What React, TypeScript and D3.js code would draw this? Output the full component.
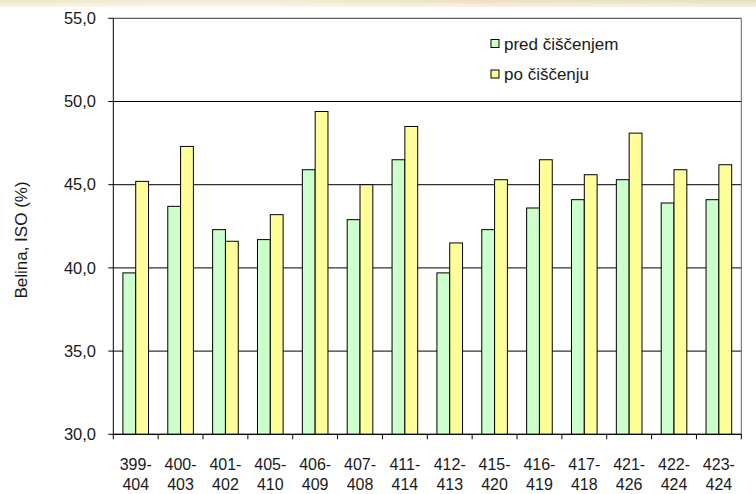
import React from "react";
import * as d3 from "d3";

const categories = [
  ["399-", "404"], ["400-", "403"], ["401-", "402"], ["405-", "410"], ["406-", "409"],
  ["407-", "408"], ["411-", "414"], ["412-", "413"], ["415-", "420"], ["416-", "419"],
  ["417-", "418"], ["421-", "426"], ["422-", "424"], ["423-", "424"],
];
const predCiscenjem = [39.7, 43.7, 42.3, 41.7, 45.9, 42.9, 46.5, 39.7, 42.3, 43.6, 44.1, 45.3, 43.9, 44.1];
const poCiscenju = [45.2, 47.3, 41.6, 43.2, 49.4, 45.0, 48.5, 41.5, 45.3, 46.5, 45.6, 48.1, 45.9, 46.2];
const yTicks = [30, 35, 40, 45, 50, 55];
const seriesNames = ["pred čiščenjem", "po čiščenju"];
const seriesColors = ["#CCFFCC", "#FFFF99"];

export default function App() {
  const W = 756, H = 494;
  const left = 113.3, right = 741.3, top = 18.3, bottom = 434.3;
  const x = d3.scaleBand<number>().domain(d3.range(categories.length)).range([left, right]).paddingInner(0).paddingOuter(0);
  const y = d3.scaleLinear().domain([30, 55]).range([bottom, top]);
  const step = x.bandwidth();
  const barW = step / 3.5;
  const fmt = (v: number) => v.toFixed(1).replace(".", ",");
  const font = "Arial, 'Liberation Sans', sans-serif";
  const series = [predCiscenjem, poCiscenju];
  const txt = "#1a1a1a";

  return (
    <svg width={W} height={H} style={{ position: "absolute", left: 0, top: 0, display: "block" }}>
      <defs>
        <linearGradient id="band" x1="0" x2="1" y1="0" y2="0">
          <stop offset="0" stopColor="#efe4c8" />
          <stop offset="0.3" stopColor="#f4ecd6" />
          <stop offset="0.6" stopColor="#ede0c0" />
          <stop offset="1" stopColor="#e8dcc0" />
        </linearGradient>
        <linearGradient id="bandv" x1="0" x2="0" y1="0" y2="1">
          <stop offset="0" stopColor="#fff" stopOpacity="0" />
          <stop offset="1" stopColor="#fff" stopOpacity="0.6" />
        </linearGradient>
      </defs>
      <rect x={0} y={0} width={W} height={H} fill="#fff" />
      <rect x={0} y={0} width={W} height={7} fill="url(#band)" />
      <rect x={0} y={0} width={W} height={7} fill="url(#bandv)" />
      {yTicks.map((t) => (
        <line key={"g" + t} x1={left} x2={right} y1={y(t)} y2={y(t)} stroke={t === 55 ? "#333" : "#000"} strokeWidth={1} />
      ))}
      <line x1={right} x2={right} y1={top} y2={bottom} stroke="#666" strokeWidth={1} />
      {series.map((s, si) =>
        s.map((v, i) => {
          const x0 = (x(i) as number) + (step - 2 * barW) / 2 + si * barW;
          return (
            <rect key={si + "-" + i} x={x0} y={y(v)} width={barW} height={bottom - y(v)}
              fill={seriesColors[si]} stroke="#000" strokeWidth={1} />
          );
        })
      )}
      <line x1={left} x2={left} y1={top} y2={bottom} stroke="#000" strokeWidth={1} />
      <line x1={left} x2={right} y1={bottom} y2={bottom} stroke="#000" strokeWidth={1} />
      {yTicks.map((t) => (
        <g key={"yt" + t}>
          <line x1={left - 5} x2={left} y1={y(t)} y2={y(t)} stroke="#000" />
          <text x={96} y={y(t)} dy="0.35em" textAnchor="end" fontFamily={font} fontSize={16.5} fill={txt}>{fmt(t)}</text>
        </g>
      ))}
      {d3.range(categories.length + 1).map((i) => {
        const xx = left + i * step;
        return <line key={"xt" + i} x1={xx} x2={xx} y1={bottom} y2={bottom + 5} stroke="#000" />;
      })}
      {categories.map((c, i) => {
        const cx = (x(i) as number) + step / 2;
        return (
          <text key={"xl" + i} fontFamily={font} fontSize={16} fill={txt} textAnchor="middle">
            <tspan x={cx} y={470}>{c[0]}</tspan>
            <tspan x={cx} y={490}>{c[1]}</tspan>
          </text>
        );
      })}
      <text transform={`translate(27, 240) rotate(-90)`} textAnchor="middle"
        fontFamily={font} fontSize={17} fill={txt}>Belina, ISO (%)</text>
      {seriesNames.map((n, i) => (
        <g key={"lg" + i}>
          <rect x={491} y={39.5 + i * 30.5} width={8} height={8} fill={seriesColors[i]} stroke="#000" strokeWidth={1} />
          <text x={504} y={50 + i * 30} fontFamily={font} fontSize={17} fill={txt}>{n}</text>
        </g>
      ))}
    </svg>
  );
}
